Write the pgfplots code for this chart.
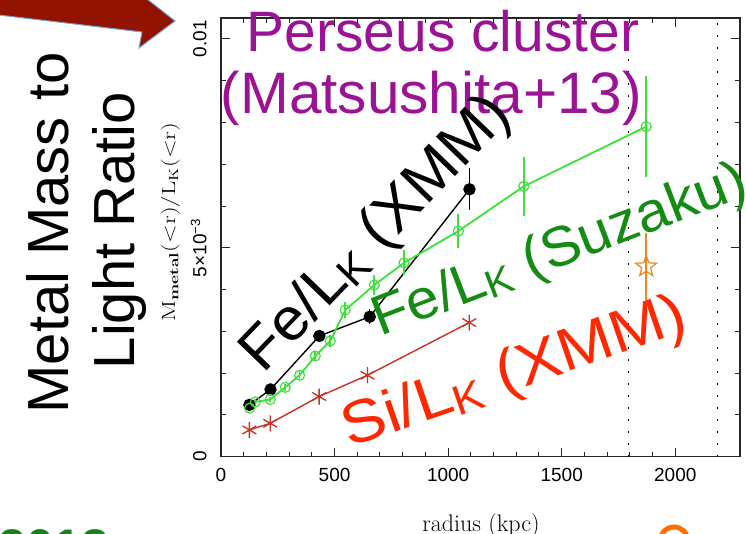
\documentclass[border=0pt]{standalone}
\usepackage{fontspec}
\usepackage{graphicx}
\usepackage{pgfplots}
\pgfplotsset{compat=1.18}
\newfontfamily\sans{Liberation Sans}
\newcommand{\fs}[1]{\fontsize{#1}{#1}\selectfont}
\newcommand{\LK}{L\raisebox{-0.1em}{\scalebox{0.7}{K}}}
\definecolor{magen}{RGB}{155,18,148}
\definecolor{suzg}{RGB}{20,140,20}
\definecolor{sired}{RGB}{255,40,0}
\definecolor{pgreen}{RGB}{60,225,60}
\definecolor{pred}{RGB}{200,50,35}
\definecolor{porange}{RGB}{235,135,30}
\definecolor{arrowred}{RGB}{146,20,0}
\definecolor{arrowblue}{RGB}{110,165,220}
\definecolor{yeargreen}{RGB}{20,130,20}
\definecolor{ringor}{RGB}{255,110,0}
\pgfdeclareplotmark{ostar}{%
  \pgfpathmoveto{\pgfpointpolar{90}{\pgfplotmarksize}}%
  \pgfpathlineto{\pgfpointpolar{126}{0.42\pgfplotmarksize}}%
  \pgfpathlineto{\pgfpointpolar{162}{\pgfplotmarksize}}%
  \pgfpathlineto{\pgfpointpolar{198}{0.42\pgfplotmarksize}}%
  \pgfpathlineto{\pgfpointpolar{234}{\pgfplotmarksize}}%
  \pgfpathlineto{\pgfpointpolar{270}{0.42\pgfplotmarksize}}%
  \pgfpathlineto{\pgfpointpolar{306}{\pgfplotmarksize}}%
  \pgfpathlineto{\pgfpointpolar{342}{0.42\pgfplotmarksize}}%
  \pgfpathlineto{\pgfpointpolar{18}{\pgfplotmarksize}}%
  \pgfpathlineto{\pgfpointpolar{54}{0.42\pgfplotmarksize}}%
  \pgfpathclose
  \pgfusepathqstroke
}
\begin{document}
\begin{tikzpicture}[x=1pt,y=1pt]
\useasboundingbox (0,0) rectangle (747,534);
\fill[white] (0,0) rectangle (747,534);
\begin{scope}
\clip (0,0) rectangle (747,534);
\filldraw[fill=arrowred, draw=arrowblue, line width=1pt]
  (-10,564) -- (-10,520) -- (142,502) -- (139,486) -- (175,513) -- (133,546) -- (130,566) -- cycle;
\end{scope}

\begin{axis}[
  at={(221pt,77.3pt)}, anchor=south west,
  scale only axis, width=519pt, height=438.7pt,
  xmin=0, xmax=2285, ymin=0, ymax=0.0105,
  axis line style={line width=1.1pt, black!85},
  xtick={0,500,1000,1500,2000}, xticklabels={0,500,1000,1500,2000},
  ytick={0,0.005,0.01}, yticklabels={0,{5×10\textsuperscript{−3}},0.01},
  minor x tick num=4, minor y tick num=4,
  tick align=inside,
  major tick length=9pt, minor tick length=5pt,
  every tick/.style={line width=1pt, black!85},
  scaled y ticks=false,
  xticklabel style={font=\sans\fs{19}, yshift=-8pt},
  yticklabel style={font=\sans\fs{19}, xshift=-11pt, rotate=90, anchor=south},
]
\addplot[black, line width=1.3pt, dash pattern=on 1.5pt off 10.5pt] coordinates {(1794,0) (1794,0.0105)};
\addplot[black, line width=1.3pt, dash pattern=on 1.5pt off 10.5pt] coordinates {(2186,0) (2186,0.0105)};
% Fe/LK XMM
\addplot[black, line width=1.4pt, mark=*, mark size=5.5pt, mark options={solid, fill=black},
  error bars/.cd, y dir=both, y explicit, error mark=none, error bar style={line width=1.4pt}]
  table[x=x, y=y, y error=e] {
x y e
125 0.00124 0.00008
218 0.00161 0.00008
433 0.00289 0.00012
655 0.00335 0.00018
1094 0.00640 0.00050
};
% Fe/LK Suzaku
\addplot[pgreen, line width=1.8pt, mark=o, mark size=5pt, mark options={solid, line width=1.2pt},
  error bars/.cd, y dir=both, y explicit, error mark=none, error bar style={line width=1.8pt}]
  table[x=x, y=y, y error=e] {
x y e
126 0.00116 0.00006
151 0.00131 0.00006
217 0.00137 0.00007
283 0.00166 0.00008
346 0.00195 0.00010
415 0.00241 0.00012
481 0.00277 0.00014
547 0.00351 0.00020
675 0.00411 0.00024
806 0.00464 0.00030
1045 0.00540 0.00040
1333 0.00647 0.00070
1872 0.00790 0.00120
};
% Si/LK XMM
\addplot[pred, line width=1.4pt, mark=asterisk, mark size=8pt, mark options={solid, line width=1.3pt}]
  table[x=x, y=y] {
x y
125 0.00064
217 0.00080
432 0.00144
645 0.00195
1093 0.00321
};
% star
\addplot[porange, line width=1.2pt, only marks, mark=ostar, mark size=11pt,
  error bars/.cd, y dir=both, y explicit, error mark=none, error bar style={line width=1.5pt}]
  coordinates {(1872,0.00455) +- (0,0.0008)};
\end{axis}

\node[rotate=90, anchor=base, inner sep=0, font=\fs{19}] at (175,312)
  {\scalebox{1.3}[1]{M\textsubscript{\bfseries metal}(<r)/L\textsubscript{K}(<r)}};
\node[anchor=base, inner sep=0, font=\fs{24}] at (481,2) {radius (kpc)};

\node[rotate=90, anchor=base, inner sep=0, font=\sans\fs{58}] at (68,301) {Metal Mass to};
\node[rotate=90, anchor=base, inner sep=0, font=\sans\fs{58}] at (134,303.5) {Light Ratio};
\node[anchor=base, inner sep=0, font=\sans\fs{57}, text=magen] at (443,482) {Perseus cluster};
\node[anchor=base, inner sep=0, font=\sans\fs{58.5}, text=magen] at (431.5,420) {(Matsushita+13)};
\node[rotate=46, inner sep=0, font=\sans\fs{60}] at (377,299) {\scalebox{1.04}[1]{Fe/\LK\ (XMM)}};
\node[rotate=21, inner sep=0, font=\sans\fs{56}, text=suzg] at (560,282) {\scalebox{1.05}[1]{Fe/\LK\ (Suzaku)}};
\node[rotate=19, inner sep=0, font=\sans\fs{60}, text=sired] at (515,160) {\scalebox{1.1}[1]{Si/\LK\ (XMM)}};
\node[anchor=base west, inner sep=0, font=\sans\bfseries\fs{50}, text=yeargreen] at (-2,-31) {2013};
\draw[ringor, line width=5pt] (674,-7) circle (14);
\end{tikzpicture}
\end{document}
